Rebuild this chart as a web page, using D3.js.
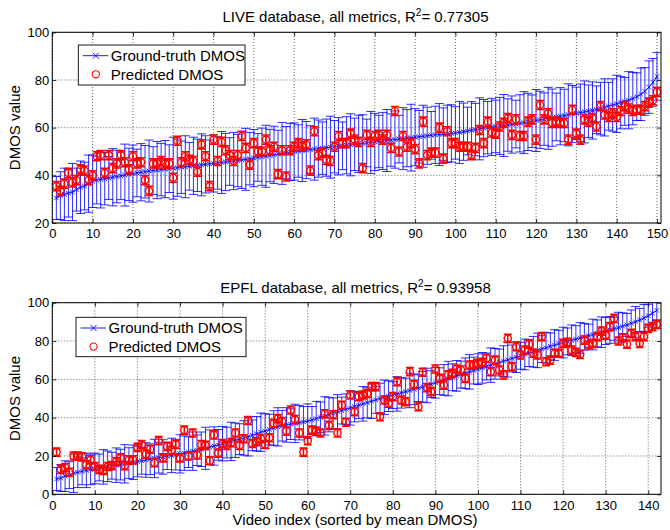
<!DOCTYPE html>
<html><head><meta charset="utf-8">
<script src="https://cdn.jsdelivr.net/npm/d3@7"></script>
<style>body{margin:0;background:#fff}svg{display:block}text{font-family:Arial,"Liberation Sans",Helvetica,sans-serif}</style>
</head><body><svg id="c" width="670" height="530"></svg>
<script>
// ---------- LIVE database ----------
const liveTruth = [
30.5,31.5,32,32.5,33,34,35,35.5,36.5,37.5,
38,38.3,38.6,38.9,39.2,39.5,39.8,40.1,40.4,40.7,
41,41.3,41.5,41.8,42,42.2,42.4,42.6,42.8,43,
43.2,43.4,43.6,43.8,44,44.2,44.4,44.6,44.8,45,
45.2,45.4,45.6,45.8,46,46.2,46.5,46.7,47,47.2,
47.5,47.8,48,48.3,48.6,48.9,49.2,49.5,49.8,50,
50.2,50.4,50.6,50.8,51,51.2,51.4,51.6,51.8,52,
52.2,52.4,52.6,52.8,53,53.2,53.4,53.6,53.8,54,
54.2,54.4,54.6,54.8,55,55.2,55.4,55.6,55.8,56,
56.2,56.4,56.6,56.8,57,57.1,57.3,57.4,57.6,57.8,
58,58.3,58.6,58.9,59.2,59.5,59.8,60,60.3,60.5,
60.7,60.9,61.1,61.3,61.5,61.8,62.1,62.4,62.7,63,
63.3,63.6,63.9,64.2,64.5,64.8,65.1,65.4,65.7,66,
66.3,66.6,66.9,67.2,67.5,68,68.5,69,69.5,70,
70.5,71,71.5,72.2,73,74,75.2,77,79,81.5];
const liveTruthStd = [
9,10,11,10,12,9,11,10,12,11, 10,12,11,9,12,11,10,13,11,12,
10,12,11,13,10,12,11,12,10,13, 12,11,13,10,12,11,13,12,10,12,
11,13,12,10,12,11,12,13,11,12, 10,12,13,11,12,10,13,11,12,12,
11,13,12,10,13,12,11,12,13,11, 12,10,12,13,11,12,12,10,13,12,
11,12,13,11,12,10,13,12,14,12, 11,13,12,10,12,13,11,12,12,11,
13,12,10,12,11,13,12,11,12,11, 12,13,11,12,10,12,13,12,11,13,
12,11,13,12,10,12,11,13,12,11, 12,13,11,12,10,11,12,10,11,12,
11,10,12,11,10,11,10,11,10,10];
const livePred = [
35.5,33.5,36.5,41,37,38,42.5,42,38,40,
48,48.5,41,48.5,43,45,48.5,45.5,42.5,48,
45,45.5,38,33.5,45,45,46,45,45,39,
54.5,45.5,48,46.5,46,41.5,53,48,35.5,55,
46,54,50.5,48.5,46,48.5,56.5,51.5,44.5,53.5,
50,50,55,50.5,52,40.5,50.5,39.5,50.5,52,
53.5,52,53,42,58.5,48.5,49.5,46.5,46,52,
56.5,53.5,53.5,57.5,55,54,43,57,54,56.5,
57,55,57,51.5,67,50,56.5,52,53.5,51,
45,62.5,48.5,49.5,49.5,60,47,58.5,53.5,53.5,
52,52,52,48.5,51.5,59,53.5,62.5,58,57.5,
60.5,62,64,57,63.5,56.5,56.5,62.5,63.5,55,
69.5,63.5,66,62,62.5,62,62,55,67.5,57.5,
55,63.5,62.5,64,60.5,69,65.5,64.5,66,64.5,
67,69,68,67,67.5,67.5,69,70.5,71.5,75];
const livePredErr = 1.9;
const liveXTicks = [0,10,20,30,40,50,60,70,80,90,100,110,120,130,140,150];
const liveYTicks = [20,40,60,80,100];

// ---------- EPFL database ----------
const epflTruth = [
8,8.5,9.5,10,11,11.5,12,12.5,13,13.5,
14,14.3,14.6,14.9,15.2,15.5,15.9,16.3,16.7,17.1,
17.5,17.9,18.3,18.7,19.1,19.5,19.9,20.3,20.7,21.1,
21.5,22,22.5,23,23.5,24,24.6,25.2,25.8,26.4,
27,27.6,28.2,28.8,29.4,30,30.8,31.6,32.4,33,
33.8,34.6,35.2,35.8,36.2,36.6,37,37.4,37.8,38.2,
38.8,39.5,40.2,40.9,41.6,42.3,43,43.7,44.4,45.1,
45.8,46.5,47.2,47.9,48.6,49.3,50,50.6,51.2,51.8,
52.4,53,53.6,54.2,54.8,55.4,56.1,56.8,57.5,58.2,
59,59.7,60.4,61.1,61.8,62.5,63.2,63.9,64.6,65.3,
66,66.7,67.4,68.1,68.8,69.5,70.2,70.9,71.6,72.3,
73,73.7,74.4,75.1,75.8,76.5,77.2,77.9,78.6,79.2,
79.8,80.4,81,81.6,82.2,82.8,83.4,84,84.6,85.2,
85.8,86.4,87,87.7,88.4,89.2,90,91,92,93.2,
94.5,96];
const epflTruthStd = [
6,7,8,7,10,8,7,9,8,8, 7,9,8,7,9,8,10,8,9,8,
7,9,8,10,8,9,7,9,8,10, 9,8,10,8,9,11,9,10,8,9,
8,10,9,8,9,10,8,9,10,9, 8,9,10,8,9,8,10,9,8,9,
7,9,8,10,9,8,9,7,8,9, 8,7,9,8,9,7,8,9,8,7,
9,8,7,9,8,7,8,9,7,8, 7,8,9,7,8,7,8,9,7,8,
8,7,9,8,7,8,9,7,8,7, 8,7,8,9,7,8,7,8,7,8,
7,8,7,8,7,6,8,7,8,7, 7,6,8,7,6,7,8,6,7,6,
6,5];
const epflPred = [
22,13,14,11.5,20,20,19.5,15.5,18,14.5,
13,12.5,14.5,15,17,19,15,18,18,24.5,
26,21,23.5,16.5,28,19,25,23,26,19,
33.5,20,32,20.5,26,25.5,17.5,31,21.5,26.5,
25.5,27,32,25.5,29,38.5,26.5,27.5,29,26,
29.5,37,39.5,38,33,44,39,32,22,28,
33.5,33,32,42,36,41.5,32,46.5,37.6,51.8,
43.1,51,51.8,52.7,56.2,56.2,40.5,49.2,47.5,51,
58.8,49.2,48.3,64,57.4,45.7,63.7,55.7,53.6,65.4,
60.5,57,62.3,63.1,65.4,64.9,60.5,67.5,67.5,68.3,
68.9,71,64,70,64.9,62.3,81.4,66.6,77,72.7,
75.3,78.4,73.6,72.7,82.3,69.2,70,73.6,73.6,78.8,
79.3,75.3,74.1,73,80.5,77.9,78.8,82.3,85.2,83.1,
87.5,91.8,80,81.7,78.4,84,82.3,78.8,82.3,86.6,
87.5,88.7];
const epflPredErr = 2.1;
const epflXTicks = [0,10,20,30,40,50,60,70,80,90,100,110,120,130,140];
const epflYTicks = [0,20,40,60,80,100];

const legendLabels = ["Ground-truth DMOS", "Predicted DMOS"];
const BLUE = "#0000ff", RED = "#ff0000";
const LABEL_FS = "15px", TICK_FS = "13px";

const svg = d3.select("#c");

function panel(o, idx) {
  const x = d3.scaleLinear().domain([0, o.xMax]).range([52.3, 661]);
  const y = d3.scaleLinear().domain([o.yMin, o.yMax]).range([o.bottom, o.top]);
  const g = svg.append("g");
  const cid = "clip" + idx;
  g.append("clipPath").attr("id", cid).append("rect")
    .attr("x", x(0)).attr("y", y(o.yMax)).attr("width", x(o.xMax) - x(0)).attr("height", y(o.yMin) - y(o.yMax));

  // grid
  const grid = g.append("g").attr("stroke", "#222").attr("stroke-width", 0.7).attr("stroke-dasharray", "1,2");
  grid.selectAll(".gx").data(o.xTicks).join("line")
    .attr("x1", d => x(d)).attr("x2", d => x(d)).attr("y1", y(o.yMin)).attr("y2", y(o.yMax));
  grid.selectAll(".gy").data(o.yTicks).join("line")
    .attr("x1", x(0)).attr("x2", x(o.xMax)).attr("y1", d => y(d)).attr("y2", d => y(d));

  const truth = o.truth.map((v, i) => ({i: i + 1, v, s: o.std[i]}));
  const pred = o.pred.map((v, i) => ({i: i + 1, v}));
  const plot = g.append("g").attr("clip-path", `url(#${cid})`);

  // truth error bars
  const tb = plot.append("g").attr("stroke", BLUE).attr("stroke-width", 1).attr("stroke-opacity", 0.82);
  tb.selectAll(".v").data(truth).join("line")
    .attr("x1", d => x(d.i)).attr("x2", d => x(d.i)).attr("y1", d => y(d.v - d.s)).attr("y2", d => y(d.v + d.s));
  tb.selectAll(".c1").data(truth).join("line")
    .attr("x1", d => x(d.i) - 4.5).attr("x2", d => x(d.i) + 4.5).attr("y1", d => y(d.v - d.s)).attr("y2", d => y(d.v - d.s));
  tb.selectAll(".c2").data(truth).join("line")
    .attr("x1", d => x(d.i) - 4.5).attr("x2", d => x(d.i) + 4.5).attr("y1", d => y(d.v + d.s)).attr("y2", d => y(d.v + d.s));
  // truth line
  plot.append("path").datum(truth).attr("fill", "none").attr("stroke", BLUE).attr("stroke-width", 0.9)
    .attr("d", d3.line().x(d => x(d.i)).y(d => y(d.v)));
  const m = 2.3;
  plot.append("g").attr("stroke", BLUE).attr("stroke-width", 0.8).selectAll("path").data(truth).join("path")
    .attr("d", d => `M${x(d.i)-m},${y(d.v)-m}L${x(d.i)+m},${y(d.v)+m}M${x(d.i)-m},${y(d.v)+m}L${x(d.i)+m},${y(d.v)-m}`);

  // predicted error bars + circles
  const pb = plot.append("g").attr("stroke", RED).attr("stroke-width", 1.6);
  pb.selectAll(".v").data(pred).join("line")
    .attr("x1", d => x(d.i)).attr("x2", d => x(d.i)).attr("y1", d => y(d.v - o.perr)).attr("y2", d => y(d.v + o.perr));
  pb.selectAll(".c1").data(pred).join("line")
    .attr("x1", d => x(d.i) - 4).attr("x2", d => x(d.i) + 4).attr("y1", d => y(d.v - o.perr)).attr("y2", d => y(d.v - o.perr));
  pb.selectAll(".c2").data(pred).join("line")
    .attr("x1", d => x(d.i) - 4).attr("x2", d => x(d.i) + 4).attr("y1", d => y(d.v + o.perr)).attr("y2", d => y(d.v + o.perr));
  plot.append("g").attr("stroke", RED).attr("stroke-width", 1.4).attr("fill", "none")
    .selectAll("circle").data(pred).join("circle")
    .attr("cx", d => x(d.i)).attr("cy", d => y(d.v)).attr("r", 3.6);

  // axes
  const ax = g.append("g").attr("transform", `translate(0,${o.bottom})`)
    .call(d3.axisBottom(x).tickValues(o.xTicks).tickSizeInner(-4).tickSizeOuter(0).tickPadding(6));
  const ay = g.append("g").attr("transform", `translate(${x(0)},0)`)
    .call(d3.axisLeft(y).tickValues(o.yTicks).tickSizeInner(-4).tickSizeOuter(0).tickPadding(3));
  const at = g.append("g").attr("transform", `translate(0,${o.top})`)
    .call(d3.axisTop(x).tickValues(o.xTicks).tickSizeInner(-4).tickSizeOuter(0).tickFormat(""));
  const ar = g.append("g").attr("transform", `translate(${x(o.xMax)},0)`)
    .call(d3.axisRight(y).tickValues(o.yTicks).tickSizeInner(-4).tickSizeOuter(0).tickFormat(""));
  [ax, ay, at, ar].forEach(a => {
    a.select(".domain").remove();
    a.selectAll("line").attr("stroke", "#000").attr("stroke-width", 0.8);
    a.selectAll("text").attr("font-size", TICK_FS).attr("fill", "#000").style("font-family", 'Arial,"Liberation Sans",sans-serif');
  });
  g.append("rect").attr("x", x(0)).attr("y", y(o.yMax)).attr("width", x(o.xMax) - x(0)).attr("height", y(o.yMin) - y(o.yMax))
    .attr("fill", "none").attr("stroke", "#000").attr("stroke-width", 1);

  // title
  const t = g.append("text").attr("x", 355.5).attr("y", o.top - 10).attr("text-anchor", "middle").attr("font-size", LABEL_FS);
  t.append("tspan").text(o.title + ", R");
  t.append("tspan").attr("font-size", "10px").attr("dy", -6).text("2");
  t.append("tspan").attr("dy", 6).text("= " + o.r2);

  // y label
  g.append("text").attr("transform", `translate(19.5,${(o.top + o.bottom) / 2}) rotate(-90)`)
    .attr("text-anchor", "middle").attr("font-size", LABEL_FS).text("DMOS value");

  // legend
  const L = o.legend;
  const lg = g.append("g");
  lg.append("rect").attr("x", L.x).attr("y", L.y).attr("width", L.w).attr("height", L.h)
    .attr("fill", "#fff").attr("stroke", "#000").attr("stroke-width", 0.9);
  const r1 = L.y + 10.7, r2 = L.y + 29.3;
  lg.append("line").attr("x1", L.x + 4.5).attr("x2", L.x + 30).attr("y1", r1).attr("y2", r1).attr("stroke", BLUE).attr("stroke-width", 0.9);
  const cx = L.x + 17.5;
  lg.append("path").attr("d", `M${cx-3},${r1-3}L${cx+3},${r1+3}M${cx-3},${r1+3}L${cx+3},${r1-3}`).attr("stroke", BLUE).attr("stroke-width", 0.9);
  lg.append("circle").attr("cx", cx).attr("cy", r2).attr("r", 3.6).attr("fill", "none").attr("stroke", RED).attr("stroke-width", 1.1);
  const tx = L.x + 32.5;
  lg.append("text").attr("x", tx).attr("y", r1 + 5.3).attr("font-size", LABEL_FS).text(legendLabels[0]);
  lg.append("text").attr("x", tx).attr("y", r2 + 5.3).attr("font-size", LABEL_FS).text(legendLabels[1]);
}

panel({top: 32.3, bottom: 223, xMax: 151, yMin: 20, yMax: 100, xTicks: liveXTicks, yTicks: liveYTicks,
  truth: liveTruth, std: liveTruthStd, pred: livePred, perr: livePredErr,
  title: "LIVE database, all metrics", r2: "0.77305",
  legend: {x: 78.3, y: 45, w: 166.7, h: 40}}, 0);
panel({top: 302.7, bottom: 494.3, xMax: 143, yMin: 0, yMax: 100, xTicks: epflXTicks, yTicks: epflYTicks,
  truth: epflTruth, std: epflTruthStd, pred: epflPred, perr: epflPredErr,
  title: "EPFL database, all metrics", r2: "0.93958",
  legend: {x: 76, y: 317.3, w: 170, h: 39.4}}, 1);

svg.append("text").attr("x", 355).attr("y", 524.5).attr("text-anchor", "middle").attr("font-size", LABEL_FS)
  .text("Video index (sorted by mean DMOS)");
</script></body></html>
